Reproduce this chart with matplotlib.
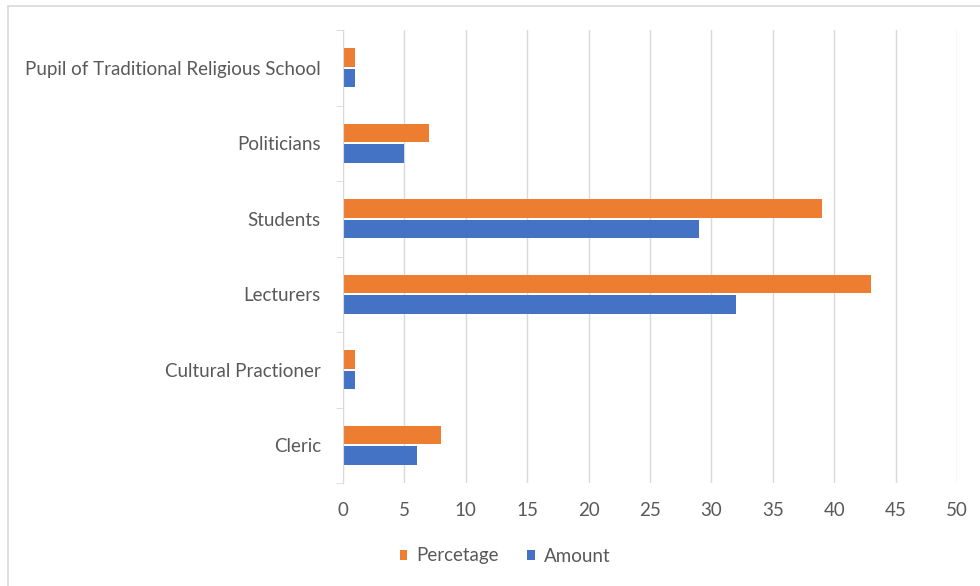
import matplotlib
matplotlib.use("Agg")
import matplotlib.pyplot as plt
import numpy as np
from matplotlib.patches import Rectangle

categories = ["Cleric", "Cultural Practioner", "Lecturers", "Students",
              "Politicians", "Pupil of Traditional Religious School"]
percentage = [8, 1, 43, 39, 7, 1]
amount = [6, 1, 32, 29, 5, 1]
xticks = [0, 5, 10, 15, 20, 25, 30, 35, 40, 45, 50]

plt.rcParams['font.family'] = ['Lato', 'DejaVu Sans']
text_color = "#595959"
orange = "#ED7D31"
blue = "#4472C4"
grid_color = "#D9D9D9"
fs = 13.5

fig = plt.figure(figsize=(9.8, 5.86), dpi=100)
fig.patches.append(Rectangle((8/980, -0.1), 1.2, 1 - 6/586 + 0.1,
                             transform=fig.transFigure, fill=False,
                             edgecolor="#D9D9D9", linewidth=1.2))
ax = fig.add_axes([343/980, 1 - 483/586, (957 - 343)/980, (483 - 30)/586])

y = np.arange(len(categories))
h = 0.25
ax.barh(y + h/2 + 0.01, percentage, height=h, color=orange, label="Percetage", zorder=3)
ax.barh(y - h/2 - 0.01, amount, height=h, color=blue, label="Amount", zorder=3)

ax.set_xlim(0, 50)
ax.set_ylim(-0.5, len(categories) - 0.5)
ax.set_xticks(xticks)
ax.set_xticklabels([str(t) for t in xticks])
ax.set_yticks(y)
ax.set_yticklabels(categories)
ax.set_yticks(np.arange(-0.5, len(categories), 1), minor=True)

ax.grid(axis="x", color=grid_color, linewidth=1, zorder=0)
for s in ["top", "right", "bottom"]:
    ax.spines[s].set_visible(False)
ax.spines["left"].set_color(grid_color)
ax.spines["left"].set_zorder(4)

ax.tick_params(axis="x", length=0, colors=text_color, labelsize=fs, pad=14)
ax.tick_params(axis="y", which="major", length=0, colors=text_color, labelsize=fs, pad=16)
ax.tick_params(axis="y", which="minor", length=5, color=grid_color)

handles, labels = ax.get_legend_handles_labels()
leg = fig.legend(handles=handles, labels=labels,
                 loc="center", bbox_to_anchor=(505/980, 1 - 556/586), ncol=2,
                 frameon=False, fontsize=fs, handlelength=0.4, handleheight=0.4,
                 handletextpad=0.5, columnspacing=1.5)
for t in leg.get_texts():
    t.set_color(text_color)

fig.savefig("out.png", dpi=100)
